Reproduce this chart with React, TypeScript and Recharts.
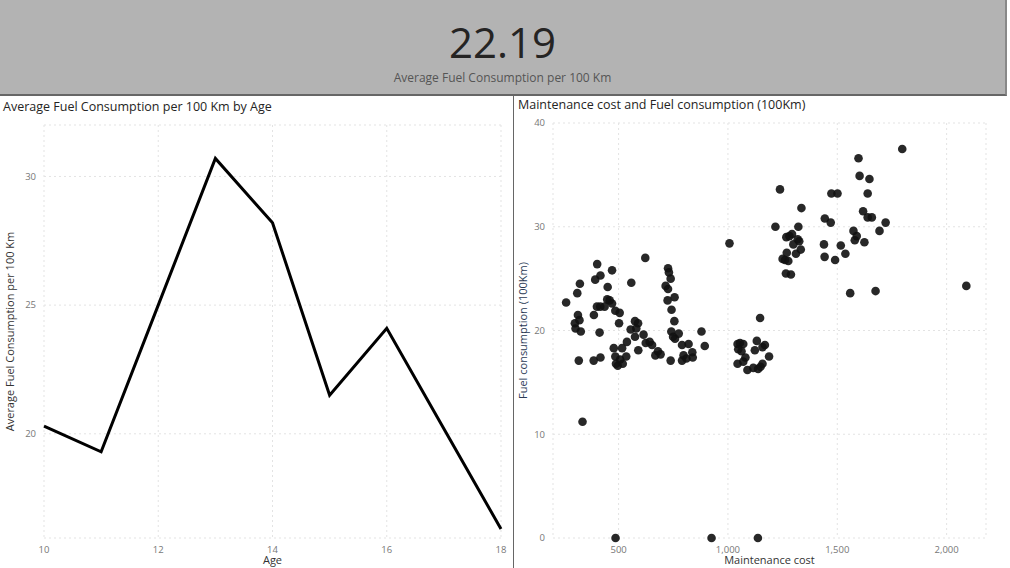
import React from 'react'
import { LineChart, Line, ScatterChart, Scatter, XAxis, YAxis, CartesianGrid } from 'recharts'

const ages = [10, 11, 12, 13, 14, 15, 16, 17, 18]
const avgFuel = [20.3, 19.3, 25.0, 30.7, 28.2, 21.5, 24.1, 20.2, 16.3]

const maintCost = [
  260, 311, 323, 300, 303, 314, 321, 327, 318, 335, 402, 393, 417, 401, 416, 387, 413, 386, 417, 450,
  470, 436, 448, 459, 470, 485, 505, 502, 478, 485, 488, 496, 507, 519, 516, 535, 538, 558, 555, 575,
  589, 581, 575, 590, 614, 622, 624, 642, 653, 668, 680, 692, 726, 730, 738, 715, 726, 724, 756, 742,
  755, 741, 749, 758, 775, 738, 790, 797, 790, 810, 820, 837, 839, 879, 894, 1007, 925, 486, 1137, 1044,
  1055, 1070, 1047, 1062, 1044, 1070, 1080, 1089, 1116, 1132, 1123, 1147, 1158, 1169, 1138, 1149, 1158, 1188, 1217, 1238,
  1250, 1261, 1269, 1276, 1267, 1281, 1293, 1299, 1322, 1319, 1326, 1311, 1333, 1336, 1265, 1288, 1443, 1470, 1473, 1501,
  1439, 1442, 1490, 1516, 1537, 1559, 1597, 1602, 1574, 1589, 1580, 1618, 1624, 1639, 1647, 1639, 1658, 1675, 1693, 1721,
  1797, 2090,
]
const fuelPer100 = [
  22.7, 23.6, 24.5, 20.7, 20.2, 21.5, 21.0, 19.9, 17.1, 11.2, 26.4, 24.9, 25.3, 22.3, 22.3, 21.5, 19.8, 17.1, 17.4, 24.2,
  25.8, 22.3, 23.0, 22.9, 22.6, 21.9, 21.7, 20.7, 18.3, 17.5, 16.8, 16.6, 17.2, 16.8, 18.3, 17.5, 18.9, 24.6, 20.1, 20.9,
  20.7, 20.2, 19.4, 18.1, 19.6, 27.0, 18.8, 18.9, 18.6, 17.6, 18.0, 17.7, 26.0, 25.6, 25.0, 24.3, 24.0, 22.9, 23.2, 22.0,
  20.9, 19.9, 19.4, 19.2, 19.7, 17.1, 18.6, 17.6, 17.1, 17.3, 18.7, 17.9, 17.4, 19.9, 18.5, 28.4, 0, 0, 0, 18.7,
  18.8, 18.7, 18.2, 18.0, 16.8, 17.0, 17.4, 16.2, 16.4, 19.0, 18.1, 21.2, 18.4, 18.6, 16.3, 16.5, 16.8, 17.5, 30.0, 33.6,
  26.9, 26.8, 27.5, 26.7, 29.0, 29.1, 29.3, 28.3, 30.0, 28.8, 28.6, 27.4, 27.8, 31.8, 25.5, 25.4, 30.8, 30.4, 33.2, 33.2,
  28.3, 27.1, 26.8, 28.2, 27.4, 23.6, 36.6, 34.9, 29.6, 29.1, 28.7, 31.5, 28.5, 33.2, 34.6, 30.9, 30.9, 23.8, 29.6, 30.4,
  37.5, 24.3,
]

const lineData = ages.map((age, i) => ({ age, fuel: avgFuel[i] }))
const scatterData = maintCost.map((cost, i) => ({ cost, fuel: fuelPer100[i] }))

const FONT = '"Segoe UI", "Open Sans", "DejaVu Sans", sans-serif'
const tick = { fontSize: 9.5, fill: '#777', fontFamily: FONT }
const axisLabel = { fontSize: 11, fill: '#333', fontFamily: FONT }

export default function App() {
  return (
    <div style={{ position: 'absolute', left: 0, top: 0, width: 1010, height: 568, background: '#fff', fontFamily: FONT, overflow: 'hidden' }}>
      <div style={{ position: 'absolute', left: 0, top: 0, width: 1005, height: 94, background: '#b3b3b3', borderBottom: '2px solid #666', borderRight: '2px solid #888' }}>
        <div style={{ position: 'absolute', top: 18, width: '100%', textAlign: 'center', fontSize: 42, color: '#252423', lineHeight: '48px' }}>22.19</div>
        <div style={{ position: 'absolute', top: 69, width: '100%', textAlign: 'center', fontSize: 12, color: '#555' }}>Average Fuel Consumption per 100 Km</div>
      </div>
      <div style={{ position: 'absolute', left: 513, top: 96, width: 1, height: 472, background: '#666' }} />
      <div style={{ position: 'absolute', left: 3, top: 98, fontSize: 12.5, color: '#252423' }}>Average Fuel Consumption per 100 Km by Age</div>
      <div style={{ position: 'absolute', left: 518, top: 96, fontSize: 12.5, color: '#252423' }}>Maintenance cost and Fuel consumption (100Km)</div>

      <div style={{ position: 'absolute', left: 0, top: 97 }}>
        <LineChart width={513} height={471} data={lineData} margin={{ top: 28, right: 12, left: 0, bottom: 0 }}>
          <CartesianGrid stroke="#e3e3e3" strokeDasharray="2 3" />
          <XAxis dataKey="age" type="number" domain={[10, 18]} ticks={[10, 12, 14, 16, 18]} tick={tick} axisLine={false} tickLine={false} height={30}
            label={{ value: 'Age', position: 'insideBottom', offset: 4, style: axisLabel }} />
          <YAxis domain={[15.95, 32]} ticks={[20, 25, 30]} tick={tick} axisLine={false} tickLine={false} width={44}
            label={{ value: 'Average Fuel Consumption per 100 Km', angle: -90, position: 'insideLeft', offset: 10, style: { ...axisLabel, textAnchor: 'middle' } }} />
          <Line dataKey="fuel" stroke="#000" strokeWidth={3} dot={false} isAnimationActive={false} strokeLinejoin="miter" />
        </LineChart>
      </div>

      <div style={{ position: 'absolute', left: 513, top: 97 }}>
        <ScatterChart width={497} height={471} margin={{ top: 26, right: 24, left: 0, bottom: 0 }}>
          <CartesianGrid stroke="#e3e3e3" strokeDasharray="2 3" />
          <XAxis dataKey="cost" type="number" domain={[200, 2180]} ticks={[500, 1000, 1500, 2000]} tickFormatter={(v: number) => v.toLocaleString('en-US')}
            tick={tick} axisLine={false} tickLine={false} height={30}
            label={{ value: 'Maintenance cost', position: 'insideBottom', offset: 4, style: axisLabel }} />
          <YAxis dataKey="fuel" type="number" domain={[0, 40]} ticks={[0, 10, 20, 30, 40]} tick={tick} axisLine={false} tickLine={false} width={40}
            label={{ value: 'Fuel consumption (100Km)', angle: -90, position: 'insideLeft', offset: 10, style: { ...axisLabel, fill: '#2b3a55', textAnchor: 'middle' } }} />
          <Scatter data={scatterData} fill="#111" fillOpacity={0.9} isAnimationActive={false}
            shape={(p: any) => <circle cx={p.cx} cy={p.cy} r={4.3} fill="#111" fillOpacity={0.9} />} />
        </ScatterChart>
      </div>
    </div>
  )
}
